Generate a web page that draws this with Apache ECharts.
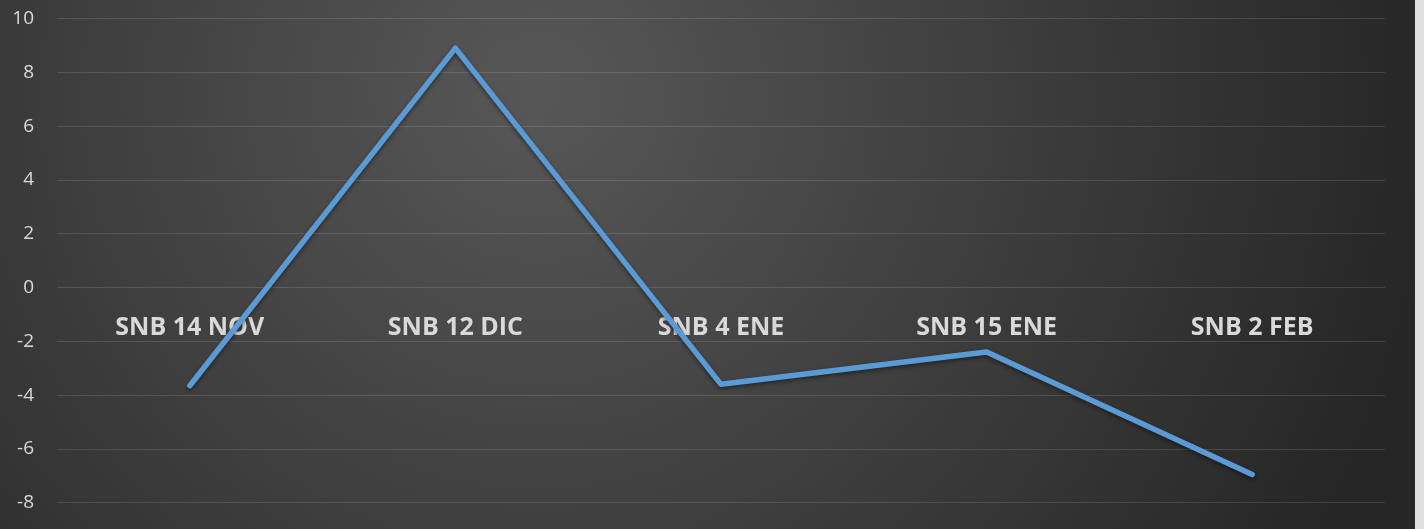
<!DOCTYPE html>
<html>
<head>
<meta charset="utf-8">
<script src="https://cdn.jsdelivr.net/npm/echarts@6/dist/echarts.min.js"></script>
<style>
  html, body { margin: 0; padding: 0; background: #e0e0e0; }
  #chart { width: 1415px; height: 529px; }
</style>
</head>
<body>
<div id="chart"></div>
<script>
// 数据
var categories = ['SNB 14 NOV', 'SNB 12 DIC', 'SNB 4 ENE', 'SNB 15 ENE', 'SNB 2 FEB'];
var values = [-3.65, 8.9, -3.6, -2.4, -6.95];
var yTicks = { min: -8, max: 10, interval: 2 };

var myChart = echarts.init(document.getElementById('chart'));

var gridTop = 18.5, gridBottom = 26.3;
var plotH = 529 - gridTop - gridBottom;
// 分类轴放在 0 的位置（从底部向上偏移）
var zeroOffset = -plotH * (0 - yTicks.min) / (yTicks.max - yTicks.min);

var option = {
  animation: false,
  backgroundColor: {
    type: 'radial', x: 0.38, y: 0.18, r: 1.7,
    colorStops: [
      { offset: 0, color: '#575757' },
      { offset: 1, color: '#262626' }
    ]
  },
  grid: { left: 57, right: 30, top: gridTop, bottom: gridBottom, containLabel: false, outerBoundsMode: 'none' },
  xAxis: {
    type: 'category',
    data: categories,
    position: 'bottom',
    offset: zeroOffset,
    axisLine: { show: false, onZero: false },
    axisTick: { show: false },
    axisLabel: {
      margin: 28,
      color: '#d9d9d9',
      fontFamily: 'Open Sans',
      fontWeight: 'bold',
      fontSize: 25
    }
  },
  yAxis: {
    type: 'value',
    min: yTicks.min, max: yTicks.max, interval: yTicks.interval,
    axisLine: { show: false },
    axisTick: { show: false },
    splitLine: { lineStyle: { color: 'rgba(255,255,255,0.13)', width: 1 } },
    axisLabel: {
      margin: 23,
      color: '#d9d9d9',
      fontFamily: 'Open Sans',
      fontSize: 19
    }
  },
  series: [{
    type: 'line',
    data: values,
    symbol: 'none',
    zlevel: 1,
    lineStyle: {
      color: '#5B9BD5',
      width: 5.5,
      cap: 'round',
      join: 'round',
      shadowColor: 'rgba(0,0,0,0.45)',
      shadowBlur: 4,
      shadowOffsetY: 2
    }
  }]
};

myChart.setOption(option);
</script>
</body>
</html>
